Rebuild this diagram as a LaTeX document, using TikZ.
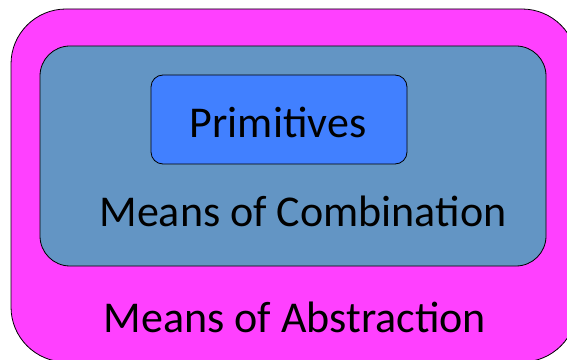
\documentclass[tikz,border=0pt]{standalone}
\usepackage{fontspec}
\setmainfont{Carlito}
\definecolor{outerc}{RGB}{255,64,255}
\definecolor{innerc}{RGB}{99,149,196}
\definecolor{primc}{RGB}{65,128,255}
\begin{document}
\begin{tikzpicture}[x=1pt,y=1pt,
  boxstyle/.style={draw=black,line width=0.8pt,rectangle,inner sep=0pt,outer sep=0pt},
  labelstyle/.style={anchor=base,inner sep=0pt,font=\fontsize{44}{50}\selectfont,text=black}]
\useasboundingbox (0,0) rectangle (567,359);
\begin{scope}
\clip (0,0) rectangle (567,359);
\node[boxstyle,fill=outerc,rounded corners=55pt,minimum width=566pt,minimum height=353pt] (outer) at (294,173.5) {};
\node[boxstyle,fill=innerc,rounded corners=30pt,minimum width=506pt,minimum height=220pt] (inner) at (293,203) {};
\node[boxstyle,fill=primc,rounded corners=12pt,minimum width=256pt,minimum height=89pt] (prim) at (279,239.5) {};
\node[labelstyle] (tprim) at (278,221) {Primitives};
\node[labelstyle] (tcomb) at (303,132.3) {Means of Combination};
\node[labelstyle] (tabs) at (295,26.3) {Means of Abstraction};
\end{scope}
\end{tikzpicture}
\end{document}
